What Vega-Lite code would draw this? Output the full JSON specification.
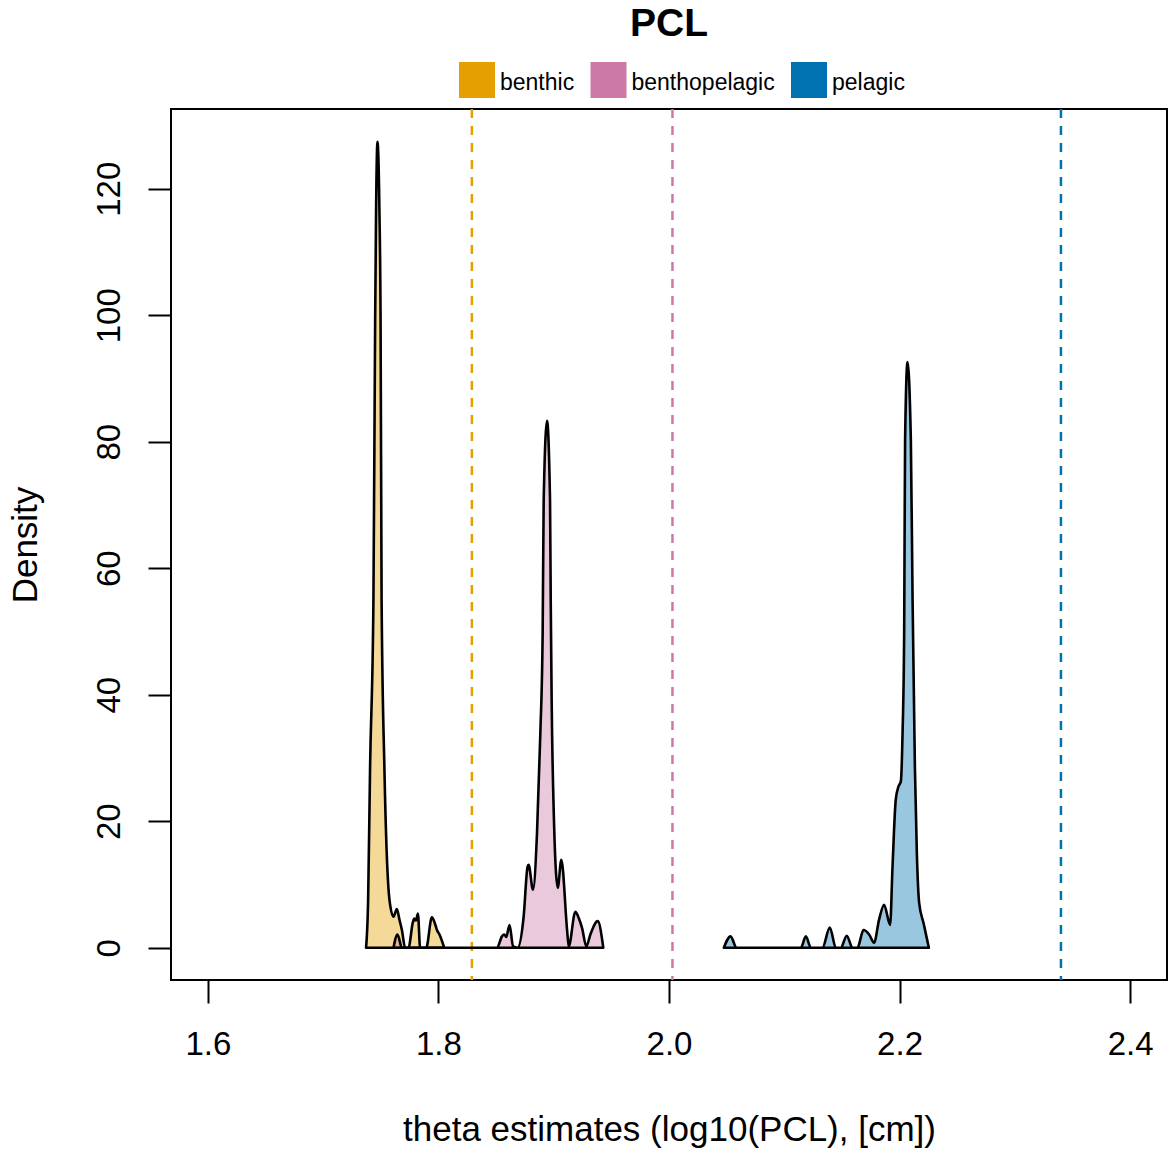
{
  "$schema": "https://vega.github.io/schema/vega-lite/v6.json",
  "width": 996,
  "height": 871,
  "autosize": "none",
  "padding": {"left": 171, "top": 109, "right": 1, "bottom": 169},
  "background": "white",
  "config": {
    "font": "Liberation Sans",
    "view": {"stroke": "black", "strokeWidth": 2},
    "axis": {"labelColor": "black", "titleColor": "black", "titleFontWeight": "normal"}
  },
  "title": {
    "text": "PCL",
    "fontSize": 39,
    "fontWeight": "bold",
    "color": "black",
    "anchor": "middle",
    "frame": "group",
    "baseline": "alphabetic",
    "offset": 0,
    "dy": 13
  },
  "datasets": {
    "dens": [
      {"group": "benthic", "theta": 1.7372, "density": 0},
      {"group": "benthic", "theta": 1.7390, "density": 7.6},
      {"group": "benthic", "theta": 1.7407, "density": 28.6},
      {"group": "benthic", "theta": 1.7436, "density": 54.9},
      {"group": "benthic", "theta": 1.7451, "density": 99.2},
      {"group": "benthic", "theta": 1.7459, "density": 116.5},
      {"group": "benthic", "theta": 1.7471, "density": 127.4},
      {"group": "benthic", "theta": 1.7488, "density": 116.5},
      {"group": "benthic", "theta": 1.7498, "density": 99.2},
      {"group": "benthic", "theta": 1.7507, "density": 54.9},
      {"group": "benthic", "theta": 1.7531, "density": 28.6},
      {"group": "benthic", "theta": 1.7575, "density": 7.6},
      {"group": "benthic", "theta": 1.7610, "density": 4.9},
      {"group": "benthic", "theta": 1.7639, "density": 6.1},
      {"group": "benthic", "theta": 1.7662, "density": 4.4},
      {"group": "benthic", "theta": 1.7683, "density": 2.8},
      {"group": "benthic", "theta": 1.7711, "density": 0},
      {"group": "benthic", "theta": 1.7740, "density": 0},
      {"group": "benthic", "theta": 1.7778, "density": 4.0},
      {"group": "benthic", "theta": 1.7790, "density": 4.6},
      {"group": "benthic", "theta": 1.7805, "density": 4.3},
      {"group": "benthic", "theta": 1.7822, "density": 5.4},
      {"group": "benthic", "theta": 1.7841, "density": 0},
      {"group": "benthic", "theta": 1.7894, "density": 0},
      {"group": "benthic", "theta": 1.7943, "density": 4.8},
      {"group": "benthic", "theta": 1.7970, "density": 3.8},
      {"group": "benthic", "theta": 1.7987, "density": 2.8},
      {"group": "benthic", "theta": 1.8009, "density": 2.1},
      {"group": "benthic", "theta": 1.8050, "density": 0},
      {"group": "benthopelagic", "theta": 1.7610, "density": 0},
      {"group": "benthopelagic", "theta": 1.7645, "density": 2.1},
      {"group": "benthopelagic", "theta": 1.7683, "density": 0},
      {"group": "benthopelagic", "theta": 1.8508, "density": 0},
      {"group": "benthopelagic", "theta": 1.8551, "density": 1.8},
      {"group": "benthopelagic", "theta": 1.8571, "density": 2.1},
      {"group": "benthopelagic", "theta": 1.8588, "density": 1.7},
      {"group": "benthopelagic", "theta": 1.8617, "density": 3.6},
      {"group": "benthopelagic", "theta": 1.8647, "density": 0.2},
      {"group": "benthopelagic", "theta": 1.8687, "density": 0},
      {"group": "benthopelagic", "theta": 1.8739, "density": 4.9},
      {"group": "benthopelagic", "theta": 1.8773, "density": 12.8},
      {"group": "benthopelagic", "theta": 1.8782, "density": 13.1},
      {"group": "benthopelagic", "theta": 1.8820, "density": 9.2},
      {"group": "benthopelagic", "theta": 1.8855, "density": 18.1},
      {"group": "benthopelagic", "theta": 1.8884, "density": 33.9},
      {"group": "benthopelagic", "theta": 1.8904, "density": 49.7},
      {"group": "benthopelagic", "theta": 1.8913, "density": 70.7},
      {"group": "benthopelagic", "theta": 1.8942, "density": 83.3},
      {"group": "benthopelagic", "theta": 1.8968, "density": 70.7},
      {"group": "benthopelagic", "theta": 1.8974, "density": 54.9},
      {"group": "benthopelagic", "theta": 1.8982, "density": 39.2},
      {"group": "benthopelagic", "theta": 1.8999, "density": 22.3},
      {"group": "benthopelagic", "theta": 1.9035, "density": 9.5},
      {"group": "benthopelagic", "theta": 1.9066, "density": 13.9},
      {"group": "benthopelagic", "theta": 1.9116, "density": 2.8},
      {"group": "benthopelagic", "theta": 1.9130, "density": 0.2},
      {"group": "benthopelagic", "theta": 1.9188, "density": 5.7},
      {"group": "benthopelagic", "theta": 1.9217, "density": 4.7},
      {"group": "benthopelagic", "theta": 1.9246, "density": 3.1},
      {"group": "benthopelagic", "theta": 1.9283, "density": 0.2},
      {"group": "benthopelagic", "theta": 1.9318, "density": 2.1},
      {"group": "benthopelagic", "theta": 1.9382, "density": 4.2},
      {"group": "benthopelagic", "theta": 1.9430, "density": 0},
      {"group": "pelagic", "theta": 2.0476, "density": 0},
      {"group": "pelagic", "theta": 2.0534, "density": 1.8},
      {"group": "pelagic", "theta": 2.0586, "density": 0},
      {"group": "pelagic", "theta": 2.1144, "density": 0},
      {"group": "pelagic", "theta": 2.1187, "density": 1.8},
      {"group": "pelagic", "theta": 2.1231, "density": 0},
      {"group": "pelagic", "theta": 2.1331, "density": 0},
      {"group": "pelagic", "theta": 2.1395, "density": 3.2},
      {"group": "pelagic", "theta": 2.1447, "density": 0},
      {"group": "pelagic", "theta": 2.1490, "density": 0},
      {"group": "pelagic", "theta": 2.1542, "density": 1.9},
      {"group": "pelagic", "theta": 2.1591, "density": 0},
      {"group": "pelagic", "theta": 2.1635, "density": 0},
      {"group": "pelagic", "theta": 2.1687, "density": 2.8},
      {"group": "pelagic", "theta": 2.1736, "density": 2.1},
      {"group": "pelagic", "theta": 2.1779, "density": 0.8},
      {"group": "pelagic", "theta": 2.1822, "density": 4.4},
      {"group": "pelagic", "theta": 2.1866, "density": 6.8},
      {"group": "pelagic", "theta": 2.1918, "density": 3.6},
      {"group": "pelagic", "theta": 2.1939, "density": 12.8},
      {"group": "pelagic", "theta": 2.1967, "density": 23.4},
      {"group": "pelagic", "theta": 2.1991, "density": 25.5},
      {"group": "pelagic", "theta": 2.2011, "density": 26.3},
      {"group": "pelagic", "theta": 2.2026, "density": 33.9},
      {"group": "pelagic", "theta": 2.2040, "density": 49.7},
      {"group": "pelagic", "theta": 2.2048, "density": 80.2},
      {"group": "pelagic", "theta": 2.2069, "density": 92.6},
      {"group": "pelagic", "theta": 2.2098, "density": 80.2},
      {"group": "pelagic", "theta": 2.2113, "density": 54.9},
      {"group": "pelagic", "theta": 2.2133, "density": 28.6},
      {"group": "pelagic", "theta": 2.2150, "density": 15},
      {"group": "pelagic", "theta": 2.2170, "density": 7.1},
      {"group": "pelagic", "theta": 2.2208, "density": 3.9},
      {"group": "pelagic", "theta": 2.2254, "density": 0}
    ],
    "means": [
      {"group": "benthic", "theta": 1.829},
      {"group": "benthopelagic", "theta": 2.003},
      {"group": "pelagic", "theta": 2.340}
    ]
  },
  "layer": [
    {
      "mark": {"type": "rule", "color": "#BEBEBE", "strokeWidth": 1.5},
      "encoding": {
        "y": {"datum": 0, "type": "quantitative", "scale": {"domain": [-5.1, 132.6], "nice": false, "zero": false}}
      }
    },
    {
      "data": {"name": "means"},
      "mark": {"type": "rule", "strokeWidth": 2.5, "strokeDash": [9, 8]},
      "encoding": {
        "x": {"field": "theta", "type": "quantitative"},
        "color": {
          "field": "group", "type": "nominal",
          "scale": {"domain": ["benthic", "benthopelagic", "pelagic"], "range": ["#E69F00", "#CC79A7", "#0072B2"]},
          "legend": {
            "title": null,
            "orient": "none",
            "legendX": 288,
            "legendY": -47,
            "direction": "horizontal",
            "symbolType": "square",
            "symbolSize": 1296,
            "symbolStrokeWidth": 0,
            "symbolDash": [],
            "labelFontSize": 23,
            "labelColor": "black",
            "labelOffset": 5,
            "columnPadding": 15.5,
            "padding": 0,
            "encode": {
              "symbols": {"update": {"fill": {"scale": "color", "field": "value"}, "fillOpacity": {"value": 1}, "strokeWidth": {"value": 0}}},
              "labels": {"update": {"dy": {"value": 3}}}
            }
          }
        }
      }
    },
    {
      "data": {"name": "dens"},
      "mark": {"type": "area", "stroke": "black", "strokeWidth": 2.6, "fillOpacity": 0.4, "strokeJoin": "round", "interpolate": "monotone"},
      "encoding": {
        "x": {
          "field": "theta", "type": "quantitative",
          "scale": {"domain": [1.568, 2.432], "nice": false, "zero": false},
          "axis": {
            "title": "theta estimates (log10(PCL), [cm])",
            "values": [1.6, 1.8, 2.0, 2.2, 2.4],
            "format": ".1f",
            "domain": false, "grid": false,
            "tickSize": 23, "tickWidth": 2, "tickColor": "black",
            "labelFontSize": 33, "labelPadding": 25,
            "titleFontSize": 35, "titleY": 160, "titleBaseline": "alphabetic"
          }
        },
        "y": {
          "field": "density", "type": "quantitative", "stack": null,
          "scale": {"domain": [-5.1, 132.6], "nice": false, "zero": false},
          "axis": {
            "title": "Density",
            "values": [0, 20, 40, 60, 80, 100, 120],
            "domain": false, "grid": false,
            "tickSize": 23, "tickWidth": 2, "tickColor": "black",
            "labelFontSize": 33, "labelPadding": 29, "labelAngle": -90,
            "labelAlign": "center", "labelBaseline": "alphabetic",
            "titleFontSize": 35, "titleX": -135, "titleBaseline": "alphabetic"
          }
        },
        "y2": {"datum": 0},
        "fill": {
          "field": "group", "type": "nominal",
          "scale": {"domain": ["benthic", "benthopelagic", "pelagic"], "range": ["#E69F00", "#CC79A7", "#0072B2"]},
          "legend": null
        }
      }
    }
  ]
}
